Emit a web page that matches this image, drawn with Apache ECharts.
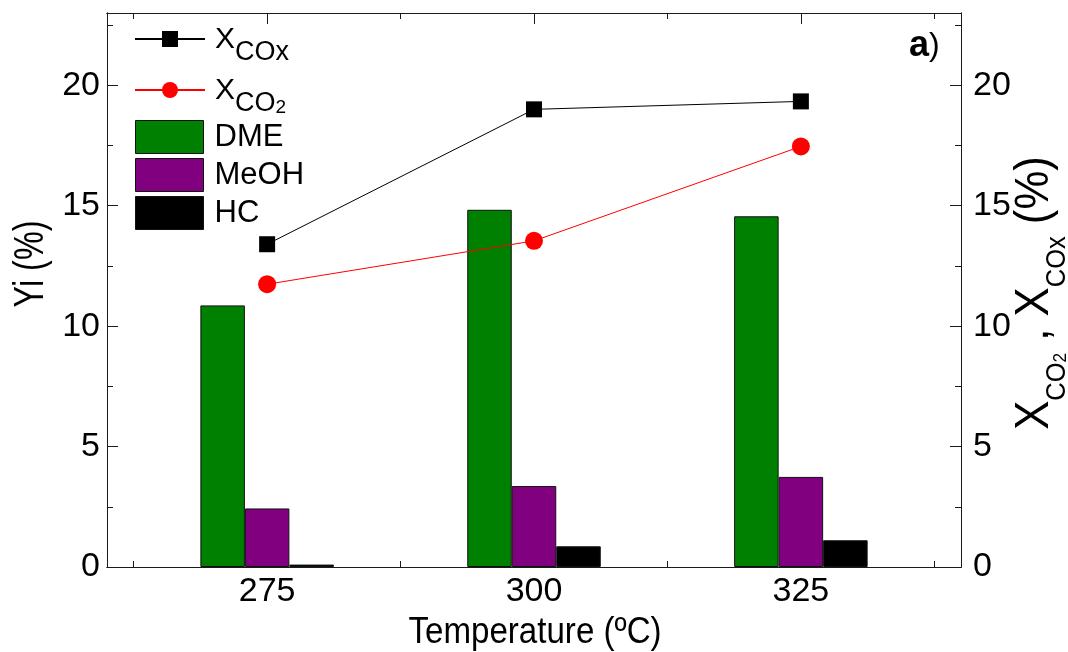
<!DOCTYPE html>
<html>
<head>
<meta charset="utf-8">
<script src="https://cdn.jsdelivr.net/npm/echarts@6/dist/echarts.min.js"></script>
<style>
html,body{margin:0;padding:0;background:#fff;}
#chart{width:1068px;height:652px;}
</style>
</head>
<body>
<div id="chart"></div>
<script>
// ---- data ----
const temperatures = [275, 300, 325];
const dmeYield = [10.86, 14.83, 14.56];
const meohYield = [2.43, 3.36, 3.74];
const hcYield = [0.10, 0.86, 1.11];
const convCOx = [13.40, 19.00, 19.33];
const convCO2 = [11.74, 13.54, 17.46];
const xMajorTicks = [275, 300, 325];
const xMinorTicks = [262.5, 287.5, 312.5, 337.5];
const yMajorTicks = [0, 5, 10, 15, 20];
const yMinorTicks = [2.5, 7.5, 12.5, 17.5, 22.5];

const FONT = '"Liberation Sans", Arial, Helvetica, sans-serif';
const AX = '#1a1a1a';
const X_MIN = 260, X_MAX = 340, Y_MIN = 0, Y_MAX = 23;

function pairs(xs, ys) { return xs.map((x, i) => [x, ys[i]]); }

function xAx(pos, ticks, len, labels) {
  return {
    type: 'value', position: pos, min: X_MIN, max: X_MAX,
    axisLine: { show: true, onZero: false, lineStyle: { color: AX, width: 1 } },
    axisTick: { show: true, inside: true, length: len, customValues: ticks, lineStyle: { color: AX, width: 1 } },
    axisLabel: labels ? { show: true, customValues: ticks, margin: 8, fontSize: 34, fontFamily: FONT, color: '#000' } : { show: false },
    splitLine: { show: false }
  };
}
function yAx(pos, ticks, len, labels, margin) {
  return {
    type: 'value', position: pos, min: Y_MIN, max: Y_MAX,
    axisLine: { show: true, onZero: false, lineStyle: { color: AX, width: 1 } },
    axisTick: { show: true, inside: true, length: len, customValues: ticks, lineStyle: { color: AX, width: 1 } },
    axisLabel: labels ? { show: true, customValues: ticks, margin: margin, fontSize: 34, fontFamily: FONT, color: '#000' } : { show: false },
    splitLine: { show: false }
  };
}

const subRich = {
  x: { fontSize: 30, lineHeight: 24, fontFamily: FONT, color: '#000', verticalAlign: 'top', padding: [0, 0, 0, 5] },
  s: { fontSize: 27, lineHeight: 28, fontFamily: FONT, color: '#000', verticalAlign: 'top', padding: [14, 0, 0, 0] },
  t: { fontSize: 19, lineHeight: 20, fontFamily: FONT, color: '#000', verticalAlign: 'top', padding: [22, 0, 0, 0] }
};
const legendNames = { XCOx: '{x|X}{s|COx}', XCO2: '{x|X}{s|CO}{t|2}' };

function lineLegend(name, top) {
  return {
    left: 134, top: top, padding: 0, orient: 'vertical', selectedMode: false,
    itemWidth: 70, itemHeight: 20, itemGap: 0,
    data: [name],
    formatter: n => legendNames[n],
    textStyle: { fontFamily: FONT, fontSize: 30, color: '#000', rich: subRich }
  };
}
function barLegend(name, top) {
  return {
    left: 135, top: top, padding: 0, orient: 'vertical', selectedMode: false,
    itemWidth: 68, itemHeight: 33, itemGap: 0, icon: 'rect',
    itemStyle: { borderColor: '#111', borderWidth: 1 },
    data: [name],
    textStyle: { fontFamily: FONT, fontSize: 31, lineHeight: 31, color: '#000', padding: [0, 0, 0, 6] }
  };
}

const chart = echarts.init(document.getElementById('chart'), null, { renderer: 'canvas' });
chart.setOption({
  backgroundColor: '#fff',
  animation: false,
  grid: { left: 107, right: 107, top: 13, bottom: 85, containLabel: false },
  xAxis: [
    xAx('bottom', xMajorTicks, 11, true),
    xAx('bottom', xMinorTicks, 6, false),
    xAx('top', xMajorTicks, 11, false),
    xAx('top', xMinorTicks, 6, false)
  ],
  yAxis: [
    yAx('left', yMajorTicks, 11, true, 7),
    yAx('right', yMajorTicks, 11, true, 12),
    yAx('left', yMinorTicks, 6, false, 0),
    yAx('right', yMinorTicks, 6, false, 0)
  ],
  legend: [
    lineLegend('XCOx', 25),
    lineLegend('XCO2', 76),
    barLegend('DME', 120),
    barLegend('MeOH', 158),
    barLegend('HC', 196)
  ],
  graphic: [
    { type: 'text', x: 535, y: 633, scaleX: 0.895, z: 10,
      style: { text: 'Temperature (ºC)', font: '37px ' + FONT, fill: '#000', textAlign: 'center', textVerticalAlign: 'middle' } },
    { type: 'text', x: 31, y: 264, rotation: Math.PI / 2, scaleX: 0.77, z: 10,
      style: { text: 'Yi (%)', font: '42px ' + FONT, fill: '#000', textAlign: 'center', textVerticalAlign: 'middle' } },
    { type: 'text', x: 1035, y: 293, rotation: Math.PI / 2, scaleX: 0.91, z: 10,
      style: {
        text: '{x|X}{s|CO}{t|2}{x| , X}{s|COx}{x| (%)}',
        textAlign: 'center', textVerticalAlign: 'middle',
        rich: {
          x: { fontSize: 48, lineHeight: 48, fontFamily: FONT, fill: '#000', verticalAlign: 'top' },
          s: { fontSize: 28, lineHeight: 28, fontFamily: FONT, fill: '#000', verticalAlign: 'top', padding: [32, 0, 0, 0] },
          t: { fontSize: 19, lineHeight: 20, fontFamily: FONT, fill: '#000', verticalAlign: 'top', padding: [40, 0, 0, 0] }
        }
      } },
    { type: 'text', x: 909, y: 46, z: 10,
      style: {
        text: '{a|a}{p|)}', textVerticalAlign: 'middle',
        rich: {
          a: { fontSize: 36, fontWeight: 'bold', fontFamily: FONT, fill: '#000' },
          p: { fontSize: 32, fontFamily: FONT, fill: '#000' }
        }
      } }
  ],
  series: [
    { name: 'DME', type: 'bar', xAxisIndex: 0, yAxisIndex: 0, data: pairs(temperatures, dmeYield),
      barWidth: 44.5, barGap: '0%', itemStyle: { color: '#008000', borderColor: '#111', borderWidth: 1 }, z: 2 },
    { name: 'MeOH', type: 'bar', xAxisIndex: 0, yAxisIndex: 0, data: pairs(temperatures, meohYield),
      barWidth: 44.5, barGap: '0%', itemStyle: { color: '#800080', borderColor: '#111', borderWidth: 1 }, z: 2 },
    { name: 'HC', type: 'bar', xAxisIndex: 0, yAxisIndex: 0, data: pairs(temperatures, hcYield),
      barWidth: 44.5, barGap: '0%', itemStyle: { color: '#000000', borderColor: '#111', borderWidth: 1 }, z: 2 },
    { name: 'XCOx', type: 'line', xAxisIndex: 0, yAxisIndex: 1, data: pairs(temperatures, convCOx),
      symbol: 'rect', symbolSize: 16, itemStyle: { color: '#000' }, lineStyle: { color: '#000', width: 1 }, z: 5 },
    { name: 'XCO2', type: 'line', xAxisIndex: 0, yAxisIndex: 1, data: pairs(temperatures, convCO2),
      symbol: 'circle', symbolSize: 18, itemStyle: { color: '#ff0000' }, lineStyle: { color: '#ff0000', width: 1 }, z: 5 }
  ]
});
</script>
</body>
</html>
